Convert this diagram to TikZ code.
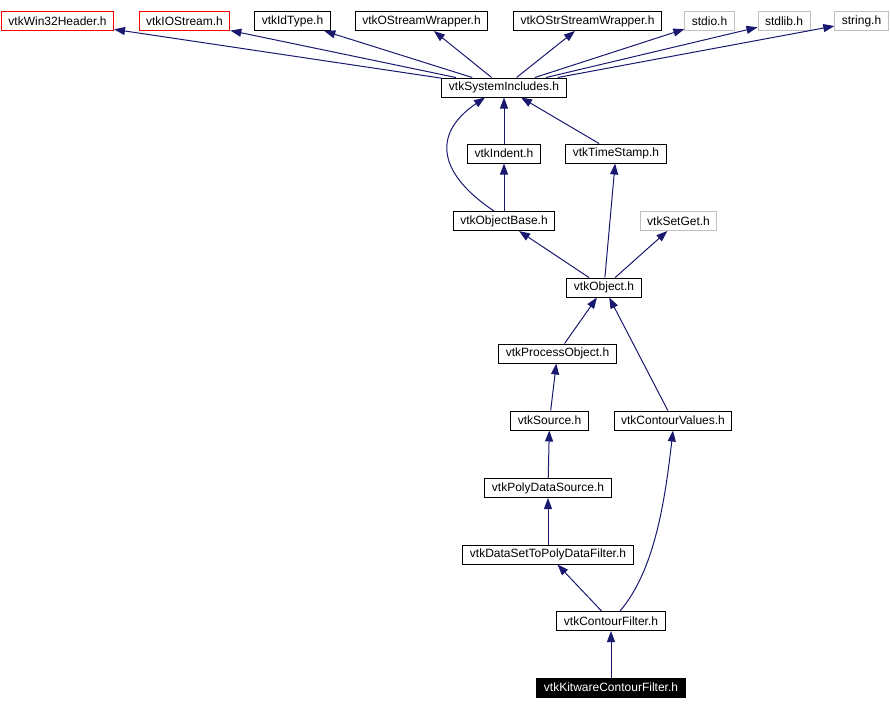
\documentclass[tikz,border=0pt]{standalone}
\usepackage{fontspec}
\setmainfont{Liberation Sans}
\usetikzlibrary{arrows.meta}
\definecolor{edgeblue}{RGB}{25,25,112}
\definecolor{boxgray}{RGB}{191,191,191}

\begin{document}
\begin{tikzpicture}[x=1pt, y=-1pt, font=\fontsize{12}{14}\selectfont,
  hdr/.style={draw, line width=1pt, inner xsep=7pt, inner ysep=0pt, minimum height=19pt},
  redhdr/.style={hdr, draw=red},
  grayhdr/.style={hdr, draw=boxgray},
  dep/.style={draw=edgeblue, line width=1pt, -{Triangle[length=11pt,width=8pt]}}]
  \useasboundingbox (0,0) rectangle (890,709);
  % top row
  \node[redhdr] (win32) at (57.5,21) {vtkWin32Header.h};
  \node[redhdr] (iostream) at (184.5,21) {vtkIOStream.h};
  \node[hdr] (idtype) at (292.5,21) {vtkIdType.h};
  \node[hdr] (ostream) at (421.5,21) {vtkOStreamWrapper.h};
  \node[hdr] (ostrstream) at (587.5,21) {vtkOStrStreamWrapper.h};
  \node[grayhdr] (stdio) at (709.5,21) {stdio.h};
  \node[grayhdr] (stdlib) at (784,21) {stdlib.h};
  \node[grayhdr] (string) at (861.5,21) {string.h};
  \node[hdr] (sysinc) at (504,87.5) {vtkSystemIncludes.h};
  \node[hdr] (indent) at (504,153.5) {vtkIndent.h};
  \node[hdr] (timestamp) at (616,153.5) {vtkTimeStamp.h};
  \node[hdr] (objbase) at (504,221) {vtkObjectBase.h};
  \node[grayhdr] (setget) at (678.5,221) {vtkSetGet.h};
  \node[hdr] (object) at (604,287.5) {vtkObject.h};
  \node[hdr] (procobj) at (557.5,353.5) {vtkProcessObject.h};
  \node[hdr] (source) at (549.5,420.5) {vtkSource.h};
  \node[hdr] (contval) at (673,420.5) {vtkContourValues.h};
  \node[hdr] (polysrc) at (548,488) {vtkPolyDataSource.h};
  \node[hdr] (dstopd) at (548,554.5) {vtkDataSetToPolyDataFilter.h};
  \node[hdr] (contfilt) at (611,621) {vtkContourFilter.h};
  \node[hdr, fill=black, text=white] (kwcontfilt) at (611,687.5) {vtkKitwareContourFilter.h};
  % includes
  \foreach \top in {win32,iostream,idtype,ostream,ostrstream,stdio,stdlib,string}
    \draw[dep] (sysinc) -- (\top);
  \draw[dep] (indent) -- (sysinc);
  \draw[dep] (timestamp) -- (sysinc);
  \draw[dep] ([xshift=-10pt]objbase.north) .. controls (440,175) and (430,135) .. ([xshift=-19pt]sysinc.south);
  \draw[dep] (objbase) -- (indent);
  \draw[dep] (object) -- (objbase);
  \draw[dep] (object) -- (timestamp);
  \draw[dep] (object) -- (setget);
  \draw[dep] (procobj) -- (object);
  \draw[dep] (contval) -- (object);
  \draw[dep] (source) -- (procobj);
  \draw[dep] (polysrc) -- (source);
  \draw[dep] (dstopd) -- (polysrc);
  \draw[dep] (contfilt) -- (dstopd);
  \draw[dep] ([xshift=9pt]contfilt.north) .. controls (655,570) and (665,500) .. (contval.south);
  \draw[dep] (kwcontfilt) -- (contfilt);
\end{tikzpicture}
\end{document}
